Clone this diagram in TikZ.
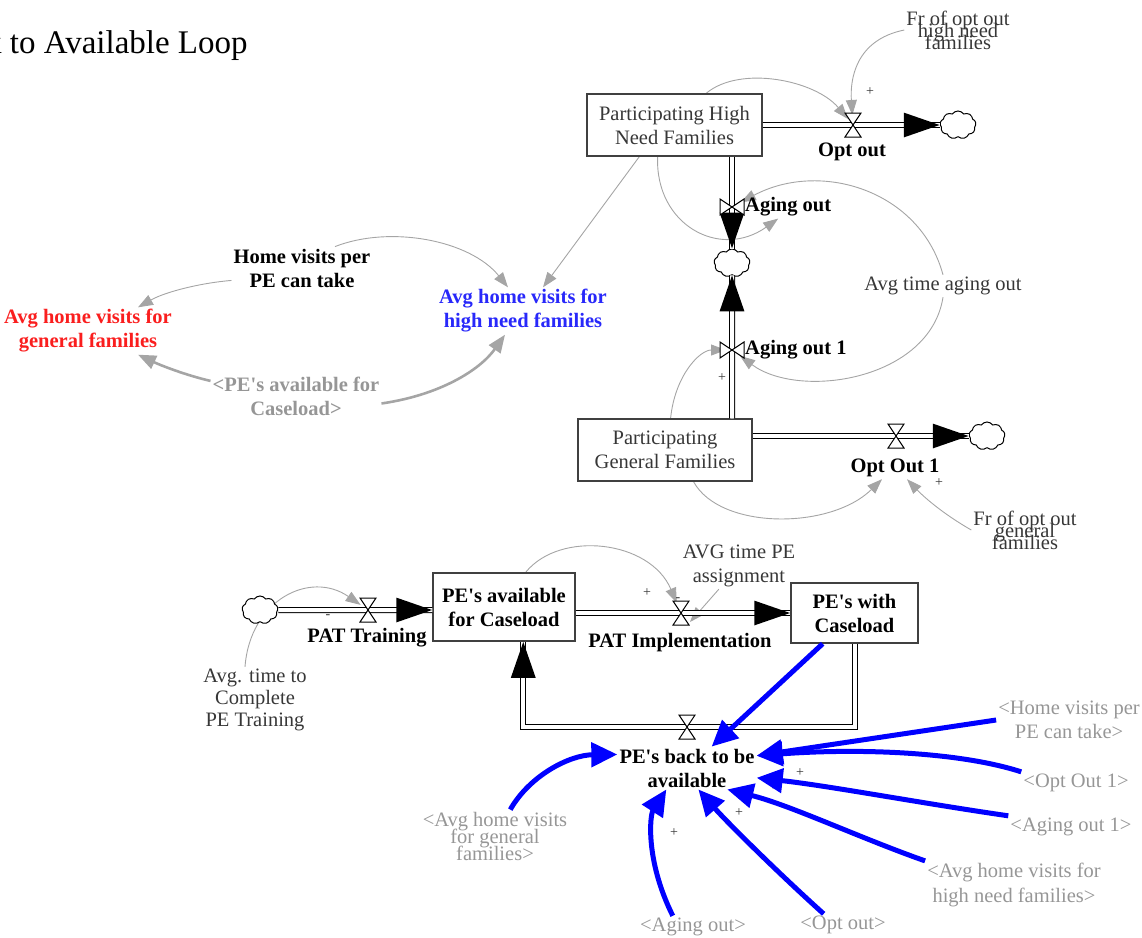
\documentclass[tikz,border=0pt]{standalone}
\usepackage{fontspec}
\setmainfont{Liberation Serif}
\usetikzlibrary{arrows.meta,shapes.symbols,backgrounds}
\definecolor{linkgray}{RGB}{165,165,165}
\definecolor{shadowgray}{RGB}{150,150,150}
\definecolor{labelgray}{RGB}{55,55,55}
\definecolor{auxred}{RGB}{250,30,30}
\definecolor{auxblue}{RGB}{40,40,250}
\definecolor{linkblue}{RGB}{0,0,255}
\newcommand{\tightlines}{\lineskiplimit -40pt\relax}
\newcommand{\PEs}{PE\textquotesingle s}
\begin{document}
\begin{tikzpicture}[x=1pt, y=-1pt,
    every node/.style={font=\fontsize{20.5}{24}\selectfont, inner sep=2pt},
    varbold/.style={font=\fontsize{20.5}{24}\selectfont\bfseries},
    overlapped/.style={font=\fontsize{20.5}{12}\selectfont\tightlines},
    stock/.style={draw=black!75, line width=1.5pt, fill=white, align=center, text=labelgray, minimum height=62pt},
    cloudsym/.style={cloud, cloud puffs=9, cloud puff arc=110, cloud ignores aspect, draw=black, line width=1pt, fill=white, minimum width=36pt, minimum height=28pt, inner sep=0pt},
    pipe/.style={draw=black, line width=1pt, double=white, double distance=4pt},
    pipehead/.style={draw=white, line width=3pt, -{Triangle[color=black, fill=black, length=36pt, width=24pt]}},
    infolink/.style={draw=linkgray, line width=0.9pt, -{Triangle[length=15pt, width=11pt]}},
    thicklink/.style={draw=linkgray, line width=2.6pt, -{Triangle[length=18pt, width=14pt]}},
    bluelink/.style={draw=linkblue, line width=5pt, -{Triangle[length=26pt, width=24pt]}},
    polarity/.style={font=\fontsize{14}{14}\selectfont, text=labelgray},
    valve/.pic={\draw[line width=1pt, fill=white] (-8,-12) -- (8,-12) -- (-8,12) -- (8,12) -- cycle;}
  ]
\useasboundingbox (0,0) rectangle (1142,937);
\clip (0,0) rectangle (1142,937);

\node[anchor=base west, font=\fontsize{33}{36}\selectfont, inner sep=0pt] (title) at (-15,53) {k to Available Loop};

% stocks
\node[stock, minimum width=175pt] (highneed) at (674.5,125) {Participating High\\Need Families};
\node[stock, minimum width=174pt] (general) at (665,450) {Participating\\General Families};
\node[stock, varbold, text=black, minimum width=142pt, minimum height=68pt] (peavail) at (504,607) {\PEs{} available\\for Caseload};
\node[stock, varbold, text=black, minimum width=127pt, minimum height=60pt] (caseload) at (854.5,613) {\PEs{} with\\Caseload};

% clouds and valves
\node[cloudsym] (optcloud) at (958,125) {};
\node[cloudsym] (agecloud) at (732,263) {};
\node[cloudsym] (optcloudone) at (987,436) {};
\node[cloudsym] (traincloud) at (260,610) {};
\coordinate (optv) at (853,125);
\coordinate (agingv) at (732,207);
\coordinate (agingvone) at (732,350);
\coordinate (optvone) at (896,436);
\coordinate (trainv) at (368,610);
\coordinate (implv) at (681,613);
\coordinate (backv) at (687,727);

% flow labels
\node[varbold] (optoutlbl) at (852,152) {Opt out};
\node[varbold, anchor=west] (agingoutlbl) at (743,207) {Aging out};
\node[varbold, anchor=west] (agingoutonelbl) at (743,350) {Aging out 1};
\node[varbold] (optoutonelbl) at (895,468) {Opt Out 1};
\node[varbold] (trainlbl) at (367,638) {PAT Training};
\node[varbold] (impllbl) at (680,643) {PAT Implementation};
\node[varbold, align=center] (peback) at (687,768) {\PEs{} back to be\\available};

% auxiliaries
\node[overlapped, align=center, text=labelgray] (frhigh) at (958,30) {Fr of opt out\\high need\\families};
\node[text=labelgray] (avgaging) at (943,286) {Avg time aging out};
\node[overlapped, align=center, text=labelgray] (frgeneral) at (1025,530) {Fr of opt out\\general\\families};
\node[varbold, align=center] (homevis) at (302,268) {Home visits per\\PE can take};
\node[varbold, align=center, text=auxred] (avggen) at (88,331) {Avg home visits for\\general families};
\node[varbold, align=center, text=auxblue] (avghigh) at (523,311) {Avg home visits for\\high need families};
\node[varbold, align=center, text=shadowgray] (shpeavail) at (296,396) {<\PEs{} available for\\Caseload>};
\node[align=center, text=labelgray, font=\fontsize{20.5}{22}\selectfont] (avgtrain) at (255,700) {Avg. time to\\Complete\\PE Training};
\node[align=center, text=labelgray] (avgassign) at (739,566) {AVG time PE\\assignment};

% shadow variables
\node[align=center, text=shadowgray] (shhome) at (1069,720) {<Home visits per\\PE can take>};
\node[text=shadowgray] (shoptoutone) at (1076,783) {<Opt Out 1>};
\node[text=shadowgray] (shagingone) at (1071,827) {<Aging out 1>};
\node[align=center, text=shadowgray, font=\fontsize{20.5}{25}\selectfont] (shavghigh) at (1014,885) {<Avg home visits for\\high need families>};
\node[text=shadowgray] (shoptout) at (843,925) {<Opt out>};
\node[text=shadowgray] (shagingout) at (693,927) {<Aging out>};
\node[align=center, text=shadowgray, font=\fontsize{20.5}{17}\selectfont\tightlines] (shavggen) at (495,836) {<Avg home visits\\for general\\families>};

% polarities
\node[polarity] (plusfrhigh) at (870,92) {+};
\node[polarity] (plusagingone) at (722,378) {+};
\node[polarity] (plusfrgen) at (939,483) {+};
\node[polarity] (minustrain) at (328,617) {-};
\node[polarity] (plusimpl) at (647,593) {+};
\node[polarity] (minusimpl) at (678,600) {-};
\node[polarity] (plushidden) at (800,773) {+};
\node[polarity] (minusagingone) at (774,790) {-};
\node[polarity] (plusavghigh) at (739,813) {+};
\node[polarity] (plusagingout) at (674,833) {+};

% information links
\begin{scope}[on background layer]
\draw[infolink, shorten >=10pt] (frhigh.west) .. controls (855,40) and (850,80) .. (optv);
\draw[infolink, shorten >=8pt] (highneed.45) .. controls (740,65) and (815,80) .. (optv);
\draw[infolink] (highneed.242) .. controls (655,225) and (720,260) .. ([xshift=-10pt]agingoutlbl.south);
\draw[infolink, shorten >=10pt] (avgaging.north) .. controls (920,190) and (820,160) .. (agingv);
\draw[infolink, shorten >=10pt] (avgaging.south) .. controls (930,380) and (800,400) .. (agingvone);
\draw[infolink, shorten >=6pt] (general.80) .. controls (675,375) and (700,350) .. (agingvone);
\draw[infolink] (general.312) .. controls (720,530) and (830,530) .. ([xshift=-13pt]optoutonelbl.south);
\draw[infolink] (frgeneral.west) .. controls (940,512) and (922,495) .. ([xshift=12pt]optoutonelbl.south);
\draw[infolink] (homevis.190) .. controls (200,283) and (165,292) .. ([xshift=50pt]avggen.north);
\draw[infolink] (homevis.33) .. controls (390,225) and (470,240) .. ([xshift=-15pt]avghigh.north);
\draw[infolink] (highneed.222) -- ([xshift=20pt]avghigh.north);
\draw[thicklink] (shpeavail.170) .. controls (185,375) and (160,365) .. ([xshift=50pt]avggen.south);
\draw[thicklink] (shpeavail.-5) .. controls (440,395) and (480,370) .. ([xshift=-18pt]avghigh.south);
\draw[infolink, shorten >=9pt] ([xshift=-10pt]avgtrain.north) .. controls (250,600) and (310,570) .. (trainv);
\draw[infolink, shorten >=11pt] (peavail.58) .. controls (560,530) and (650,540) .. (implv);
\draw[infolink] (avgassign.229) -- ([xshift=9pt, yshift=-9pt]implv);
\end{scope}

% pipes
\draw[pipe] (highneed.east |- optv) -- (optcloud.west);
\draw[pipehead] (highneed.east |- optv) -- (optcloud.west);
\draw[pipe] (agingv |- highneed.south) -- (agecloud.north);
\draw[pipehead] (agingv |- highneed.south) -- (agecloud.north);
\draw[pipe] (agingvone |- general.north) -- (agecloud.south);
\draw[pipehead] (agingvone |- general.north) -- (agecloud.south);
\draw[pipe] (general.east |- optvone) -- (optcloudone.west);
\draw[pipehead] (general.east |- optvone) -- (optcloudone.west);
\draw[pipe] (traincloud.east) -- (peavail.west |- trainv);
\draw[pipehead] (traincloud.east) -- (peavail.west |- trainv);
\draw[pipe] (peavail.east |- implv) -- (caseload.west |- implv);
\draw[pipehead] (peavail.east |- implv) -- (caseload.west |- implv);
\draw[pipe] (caseload.south) -- (caseload.south |- backv) -- (peavail.299 |- backv) -- (peavail.299);
\draw[pipehead] (caseload.south) -- (caseload.south |- backv) -- (peavail.299 |- backv) -- (peavail.299);

\pic at (optv) {valve};
\pic[rotate=90] at (agingv) {valve};
\pic[rotate=90] at (agingvone) {valve};
\pic at (optvone) {valve};
\pic at (trainv) {valve};
\pic at (implv) {valve};
\pic at (backv) {valve};

% links into PE's back to be available
\draw[bluelink] (caseload.224) -- (peback.41);
\draw[bluelink] (shhome.west) -- (peback.10);
\draw[bluelink] (shoptoutone.north west) .. controls (960,752) and (860,748) .. (peback.10);
\draw[bluelink] (shagingone.north west) .. controls (920,803) and (830,786) .. (peback.352);
\draw[bluelink] (shavghigh.north west) .. controls (860,838) and (790,805) .. (peback.332);
\draw[bluelink] (shoptout.150) .. controls (775,870) and (725,820) .. (peback.298);
\draw[bluelink] (shagingout.151) .. controls (645,860) and (650,815) .. (peback.226);
\draw[bluelink] (shavggen.60) .. controls (530,775) and (570,755) .. (peback.169);
\end{tikzpicture}
\end{document}
